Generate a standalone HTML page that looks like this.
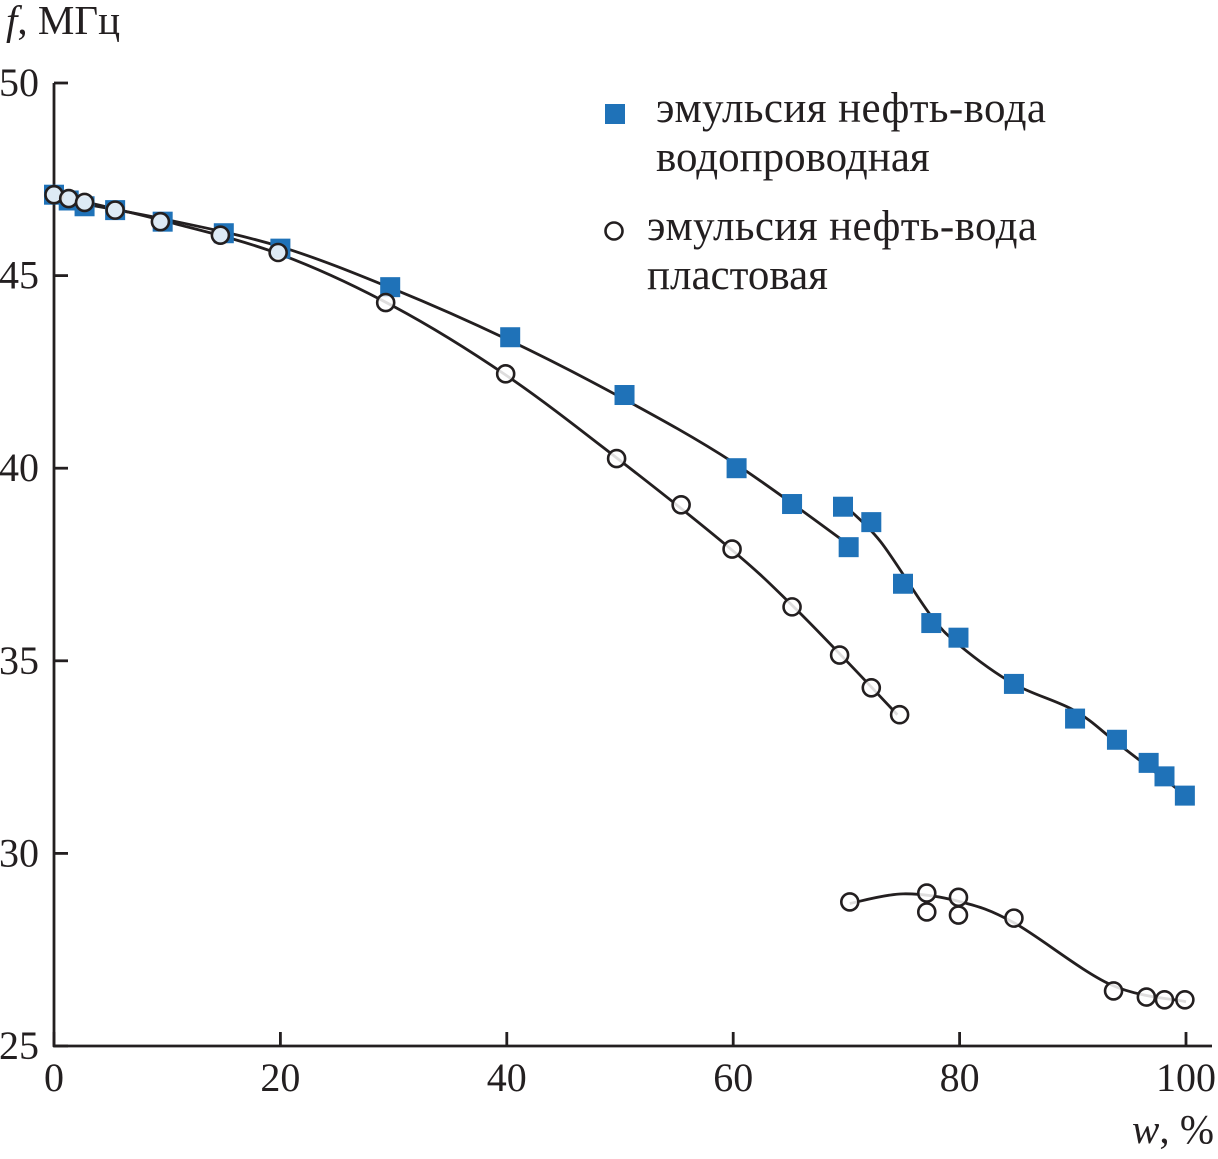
<!DOCTYPE html>
<html><head><meta charset="utf-8"><style>
body{margin:0;background:#fff}
svg text{font-family:"Liberation Serif",serif;fill:#231f20}
</style></head><body>
<svg width="1218" height="1154" xmlns="http://www.w3.org/2000/svg">
<g id="axes"></g>
<g id="curves"></g>
<g id="marks"></g>
<text x="6" y="34" font-size="41"><tspan font-style="italic">f</tspan>, МГц</text>
<text x="1214" y="1143" font-size="41" text-anchor="end"><tspan font-style="italic">w</tspan>, %</text>
<g>
<rect x="605" y="104" width="20" height="20" fill="#1f72b8"/>
<text x="656" y="122" font-size="43" textLength="390">эмульсия нефть-вода</text>
<text x="656" y="171" font-size="43">водопроводная</text>
<circle cx="614" cy="231" r="8.5" fill="#fff" stroke="#231f20" stroke-width="2.6"/>
<text x="647" y="240" font-size="43" textLength="390">эмульсия нефть-вода</text>
<text x="647" y="289" font-size="43">пластовая</text>
</g>
</svg>
<script>
const xTicks=[0,20,40,60,80,100];
const yTicks=[25,30,35,40,45,50];
const sqX=[0,1.3,2.7,5.4,9.6,15,20,29.7,40.3,50.4,60.3,65.2,69.7,70.2,72.2,75,77.5,79.9,84.8,90.2,93.9,96.7,98.1,99.9];
const sqY=[47.1,46.95,46.8,46.7,46.4,46.1,45.7,44.7,43.4,41.9,40.0,39.07,39.0,37.95,38.6,37.0,35.98,35.6,34.4,33.5,32.95,32.35,32.0,31.5];
const ciX=[0,1.3,2.7,5.4,9.4,14.7,19.8,29.3,39.9,49.7,55.4,59.9,65.2,69.4,72.2,74.7,70.3,77.1,77.1,79.9,79.9,84.8,93.6,96.5,98.1,99.9];
const ciY=[47.1,47.0,46.9,46.7,46.4,46.05,45.6,44.3,42.45,40.25,39.05,37.9,36.4,35.15,34.3,33.6,28.74,28.97,28.48,28.86,28.4,28.32,26.43,26.27,26.2,26.2];
const fitSq1X=[0,10,20,30,40,50,60,70.5];
const fitSq1Y=[47.0,46.45,45.75,44.65,43.35,41.85,40.15,37.95];
const fitSq2X=[69.7,73,77.4,80,84.8,90.2,94.2,100];
const fitSq2Y=[39.07,38.1,36.2,35.4,34.4,33.7,32.8,31.5];
const fitCi1X=[0,10,20,30,40,50,60,65,70,74.5];
const fitCi1Y=[47.1,46.4,45.55,44.2,42.4,40.2,37.85,36.5,35.0,33.6];
const fitCi2X=[70.3,75,80,84.8,93.3,100];
const fitCi2Y=[28.7,28.95,28.75,28.2,26.6,26.15];

const NS="http://www.w3.org/2000/svg";
const xs=v=>54+v*11.32;
const ys=v=>83+(50-v)*38.52;
function el(t,a,p){const e=document.createElementNS(NS,t);for(const k in a)e.setAttribute(k,a[k]);p.appendChild(e);return e;}
const axes=document.getElementById('axes');
const yl=el('line',{x1:54,y1:83,x2:54,y2:1047,stroke:'#231f20','stroke-width':2.8},axes);


const xl=el('line',{x1:53,y1:1046,x2:1212,y2:1046,stroke:'#231f20','stroke-width':2.8},axes);


xTicks.forEach(v=>{
 const t=el('line',{x1:xs(v),y1:1046,x2:xs(v),y2:1032,stroke:'#231f20','stroke-width':2.8},axes);
 
 
 const l=el('text',{x:xs(v),y:1091,'font-size':40,'text-anchor':'middle'},axes);l.textContent=v;
 
 
});
yTicks.forEach(v=>{
 const t=el('line',{x1:54,y1:ys(v),x2:68,y2:ys(v),stroke:'#231f20','stroke-width':2.8},axes);
 
 
 const l=el('text',{x:39,y:ys(v)+13,'font-size':40,'text-anchor':'end'},axes);l.textContent=v;
 
 
});
function path(X,Y){
 const P=X.map((x,i)=>[xs(x),ys(Y[i])]);
 let d='M'+P[0][0]+','+P[0][1];
 for(let i=0;i<P.length-1;i++){
  const p0=P[i-1]||P[i],p1=P[i],p2=P[i+1],p3=P[i+2]||P[i+1];
  const c1=[p1[0]+(p2[0]-p0[0])/6,p1[1]+(p2[1]-p0[1])/6];
  const c2=[p2[0]-(p3[0]-p1[0])/6,p2[1]-(p3[1]-p1[1])/6];
  d+=` C${c1[0]},${c1[1]} ${c2[0]},${c2[1]} ${p2[0]},${p2[1]}`;
 }
 return d;
}
const cg=document.getElementById('curves');
[[fitSq1X,fitSq1Y,'fit-curve-tap-1'],[fitSq2X,fitSq2Y,'fit-curve-tap-2'],[fitCi1X,fitCi1Y,'fit-curve-formation-1'],[fitCi2X,fitCi2Y,'fit-curve-formation-2']].forEach(c=>{
 const p=el('path',{d:path(c[0],c[1]),fill:'none',stroke:'#231f20','stroke-width':2.8},cg);
 
 
});
const mg=document.getElementById('marks');
sqX.forEach((x,i)=>{
 const r=el('rect',{x:xs(x)-10,y:ys(sqY[i])-10,width:20,height:20,fill:'#1f72b8'},mg);
 
 
});
ciX.forEach((x,i)=>{
 const c=el('circle',{cx:xs(x),cy:ys(ciY[i]),r:8.5,fill:'#fff','fill-opacity':0.85,stroke:'#231f20','stroke-width':2.6},mg);
 
 
});
</script>
</body></html>
